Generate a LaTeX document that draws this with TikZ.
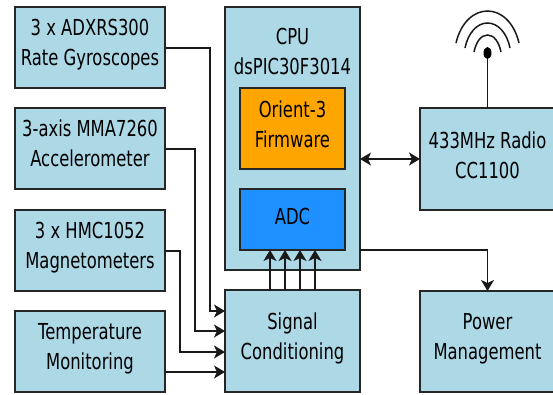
\documentclass[tikz,border=0pt]{standalone}
\usepackage{fontspec}
\setmainfont{DejaVu Sans}[FakeStretch=0.745]
\usetikzlibrary{arrows.meta,calc}
\tikzset{
  x=1pt,y=-1pt,
  blk/.style={draw=black!85,line width=1.6pt,fill=lightb,inner sep=0pt,outer sep=0pt,anchor=north west,align=center,
    text depth=10pt,font=\fontsize{22}{30}\selectfont},
  lbl/.style={inner sep=0pt,align=center,font=\fontsize{22}{30}\selectfont},
  wire/.style={draw=black!90,line width=1.5pt},
  arr/.style={wire,-{Stealth[length=11pt,width=13pt,inset=3pt]}},
  barr/.style={wire,{Stealth[length=11pt,width=13pt,inset=3pt]}-{Stealth[length=11pt,width=13pt,inset=3pt]}},
}
\definecolor{lightb}{HTML}{ADD8E6}
\definecolor{orangeb}{HTML}{FFA500}
\definecolor{adcb}{HTML}{1E90FF}
\begin{document}
\begin{tikzpicture}
\useasboundingbox (0,0) rectangle (553,394);
\node[blk,minimum width=150pt,minimum height=81pt] (gyro) at (15,7) {3 x ADXRS300\\Rate Gyroscopes};
\node[blk,minimum width=150pt,minimum height=81pt] (acc) at (15,108) {3-axis MMA7260\\Accelerometer};
\node[blk,minimum width=150pt,minimum height=81pt] (mag) at (15,210) {3 x HMC1052\\Magnetometers};
\node[blk,minimum width=150pt,minimum height=81pt] (temp) at (15,311) {Temperature\\Monitoring};
\node[blk,minimum width=135pt,minimum height=263pt] (cpu) at (225,7) {};
\node[lbl] (cputxt) at (292.5,51) {CPU\\dsPIC30F3014};
\node[blk,fill=orangeb,minimum width=105pt,minimum height=81pt,text depth=8pt] (fw) at (240,88) {Orient-3\\Firmware};
\node[blk,fill=adcb,minimum width=105pt,minimum height=61pt] (adc) at (240,189) {};
\node[lbl] (adctxt) at (292.5,216) {ADC};
\node[blk,minimum width=135pt,minimum height=102pt] (sig) at (225,290) {Signal\\Conditioning};
\node[blk,minimum width=135pt,minimum height=102pt,text depth=7pt] (radio) at (420,108) {433MHz Radio\\CC1100};
\node[blk,minimum width=135pt,minimum height=101pt] (pow) at (420,291) {Power\\Management};

\coordinate (g1) at ($(sig.north west)+(0,21)$);
\coordinate (g2) at ($(sig.north west)+(0,41)$);
\coordinate (g3) at ($(sig.north west)+(0,62)$);
\coordinate (g4) at ($(sig.north west)+(0,82)$);
\coordinate (gy) at ($(gyro.north east)+(0,41)$);
\coordinate (ac) at ($(acc.north east)+(0,41)$);
\coordinate (ma) at ($(mag.north east)+(0,41)$);
\draw[arr] (gy) -| (210,311) -- (g1);
\draw[arr] (ac) -| (195,331) -- (g2);
\draw[arr] (ma) -| (180,352) -- (g3);
\draw[arr] (temp.east |- g4) -- (g4);

\foreach \x in {270,285,300,315}
  \draw[arr] (\x,290) -- (\x,250);

\draw[barr] (cpu.east |- 0,159) -- (radio.west |- 0,159);
\draw[arr] (cpu.east |- 0,250) -| (pow.north);

\coordinate (dish) at (radio.north |- 0,53);
\draw[wire] (radio.north) -- (dish);
\fill[black] (dish) ellipse [x radius=4pt,y radius=6pt];
\draw[wire] (456,43) .. controls (461,22) and (474,11) .. (487.5,11) .. controls (501,11) and (514,22) .. (519,43);
\draw[wire] (465,48) .. controls (468,33) and (477,23) .. (487.5,23) .. controls (498,23) and (507,33) .. (510,48);
\draw[wire] (474,52) .. controls (476,42) and (481,35) .. (487.5,35) .. controls (494,35) and (499,42) .. (501,52);
\end{tikzpicture}
\end{document}
